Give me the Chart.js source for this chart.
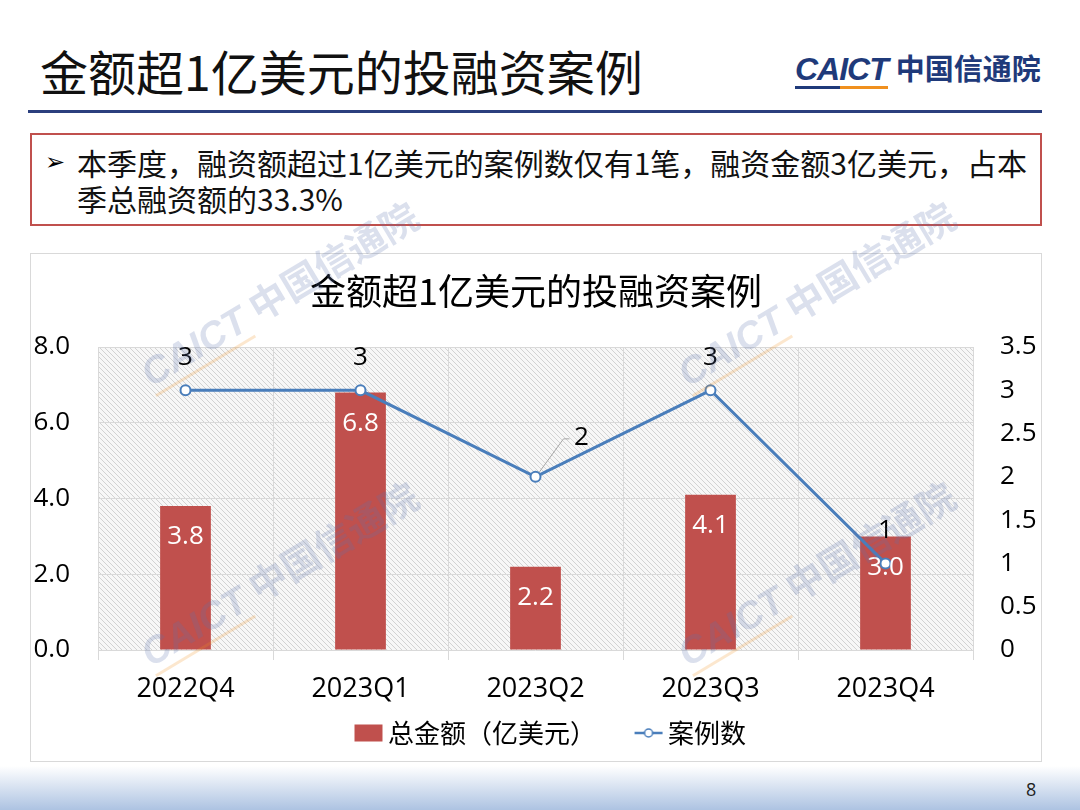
<!DOCTYPE html>
<html lang="zh-CN">
<head>
<meta charset="UTF-8">
<title>金额超1亿美元的投融资案例</title>
<style>
  body { margin: 0; background: #fff; font-family: "Noto Sans CJK SC", sans-serif; }
  #slide { position: relative; width: 1080px; height: 810px; overflow: hidden; background: #fff; }
  #title { position: absolute; left: 40px; top: 38px; font-size: 48px; line-height: 64px; color: #111; white-space: nowrap; }
  #logo { position: absolute; left: 795px; top: 50px; line-height: 34px; white-space: nowrap; color: #1f3a7a; }
  #logo .caict {
    font: italic bold 32px "Liberation Sans", sans-serif; letter-spacing: -1px;
    padding-bottom: 2px;
    background: linear-gradient(90deg, #1f3a7a 48%, #f0901e 48%) left bottom / 100% 3px no-repeat;
  }
  #logo .cn { font-weight: bold; font-size: 29px; margin-left: 8px; }
  #rule { position: absolute; left: 28px; top: 110px; width: 1014px; height: 3px; background: #2b3f7e; }
  #note { position: absolute; left: 30px; top: 133px; width: 1012px; height: 93px; box-sizing: border-box; border: 2px solid #c0504d; }
  #bullet { position: absolute; left: 45px; top: 144px; font: 24px/36px "DejaVu Sans", sans-serif; color: #000; }
  #noteText { position: absolute; left: 77px; top: 144px; font-size: 30px; line-height: 36px; color: #111; white-space: nowrap; }
  #chartBox { position: absolute; left: 30px; top: 253px; width: 1012px; height: 509px; }
  #chartFrame { position: absolute; left: 30px; top: 253px; width: 1012px; height: 509px; box-sizing: border-box; border: 1px solid #d9d9d9; pointer-events: none; }
  .wm {
    position: absolute; transform: translate(-50%, -50%) rotate(-31deg);
    font-weight: bold; font-size: 38px; color: rgba(90, 115, 175, 0.22);
    white-space: nowrap; pointer-events: none;
  }
  .wm i { font-family: "Liberation Sans", sans-serif; border-bottom: 3px solid rgba(240, 144, 30, 0.22); margin-right: 10px; }
  #footer { position: absolute; left: 0; top: 766px; width: 1080px; height: 44px; background: linear-gradient(#ffffff, #adc3e2); }
  #page { position: absolute; left: 1026px; top: 777px; font: 18px "Open Sans", sans-serif; color: #222; }
</style>
</head>
<body>
<div id="slide">
  <div id="title">金额超1亿美元的投融资案例</div>
  <div id="logo"><span class="caict">CAICT</span><span class="cn">中国信通院</span></div>
  <div id="rule"></div>
  <div id="note"></div>
  <div id="bullet">➢</div>
  <div id="noteText">本季度，融资额超过1亿美元的案例数仅有1笔，融资金额3亿美元，占本<br>季总融资额的33.3%</div>
  <div id="chartBox"><canvas id="chart" width="1012" height="509"></canvas></div>
  <div id="chartFrame"></div>
  <div class="wm" style="left:278px; top:292px;"><i>CAICT</i>中国信通院</div>
  <div class="wm" style="left:278px; top:572px;"><i>CAICT</i>中国信通院</div>
  <div class="wm" style="left:815px; top:292px;"><i>CAICT</i>中国信通院</div>
  <div class="wm" style="left:815px; top:572px;"><i>CAICT</i>中国信通院</div>
  <div id="footer"></div>
  <div id="page">8</div>
</div>

<script src="https://cdn.jsdelivr.net/npm/chart.js"></script>
<script>
  const chartTitle = '金额超1亿美元的投融资案例';
  const quarters = ['2022Q4', '2023Q1', '2023Q2', '2023Q3', '2023Q4'];
  const amounts = [3.8, 6.8, 2.2, 4.1, 3.0];      // 总金额（亿美元）
  const dealCounts = [3, 3, 2, 3, 1];             // 案例数
  const seriesNames = ['总金额（亿美元）', '案例数'];

  const barColor = '#c0504d';
  const lineColor = '#4a7ebb';
  const gridColor = '#d9d9d9';
  const numFont = '"Open Sans", "Noto Sans CJK SC", sans-serif';
  const cjkFont = '"Noto Sans CJK SC", sans-serif';

  // diagonal hatch behind the plot area
  function hatchPattern(ctx) {
    const c = document.createElement('canvas');
    c.width = 5; c.height = 5;
    const g = c.getContext('2d');
    g.fillStyle = '#f7f7f7';
    g.fillRect(0, 0, 5, 5);
    g.strokeStyle = '#d2d2d2';
    g.lineWidth = 1;
    g.beginPath(); g.moveTo(-1, -1); g.lineTo(6, 6); g.stroke();
    return ctx.createPattern(c, 'repeat');
  }

  const hatchPlugin = {
    id: 'hatch',
    beforeDraw(chart) {
      const { ctx, chartArea: a } = chart;
      ctx.save();
      ctx.fillStyle = hatchPattern(ctx);
      ctx.fillRect(a.left, a.top, a.right - a.left, a.bottom - a.top);
      ctx.restore();
    }
  };

  // data labels: white inside bar tops, black above line points
  const valueLabels = {
    id: 'valueLabels',
    afterDatasetsDraw(chart) {
      const ctx = chart.ctx;
      ctx.save();
      ctx.font = '26px ' + numFont;
      ctx.textAlign = 'center';
      ctx.textBaseline = 'middle';
      chart.getDatasetMeta(0).data.forEach((bar, i) => {
        ctx.fillStyle = '#fff';
        ctx.fillText(amounts[i].toFixed(1), bar.x, bar.y + 31);
      });
      chart.getDatasetMeta(1).data.forEach((pt, i) => {
        ctx.fillStyle = '#000';
        if (i === 2) {
          // label pushed up-right with a leader line
          ctx.strokeStyle = '#a6a6a6';
          ctx.lineWidth = 1;
          ctx.beginPath();
          ctx.moveTo(pt.x + 4, pt.y - 5);
          ctx.lineTo(pt.x + 28, pt.y - 38);
          ctx.lineTo(pt.x + 34, pt.y - 38);
          ctx.stroke();
          ctx.fillText(String(dealCounts[i]), pt.x + 46, pt.y - 39);
        } else {
          ctx.fillText(String(dealCounts[i]), pt.x, pt.y - 33);
        }
      });
      ctx.restore();
    }
  };

  // legend markers (drawn off-centre inside a wider box so the items sit where the original has them)
  function legendRect() {
    const c = document.createElement('canvas');
    c.width = 66; c.height = 18;
    const g = c.getContext('2d');
    g.fillStyle = barColor;
    g.fillRect(37, 0.5, 28, 17);
    return c;
  }
  function legendLine() {
    const c = document.createElement('canvas');
    c.width = 66; c.height = 18;
    const g = c.getContext('2d');
    g.strokeStyle = lineColor;
    g.lineWidth = 2.5;
    g.beginPath(); g.moveTo(37, 9); g.lineTo(65, 9); g.stroke();
    g.fillStyle = '#fff';
    g.lineWidth = 1.5;
    g.beginPath(); g.arc(51, 9, 4, 0, Math.PI * 2); g.fill(); g.stroke();
    return c;
  }
  const rectMark = legendRect();
  const lineMark = legendLine();

  new Chart(document.getElementById('chart'), {
    data: {
      labels: quarters,
      datasets: [
        {
          type: 'bar',
          label: seriesNames[0],
          data: amounts,
          backgroundColor: barColor,
          yAxisID: 'y',
          order: 2,
          barPercentage: 0.29,
          categoryPercentage: 1
        },
        {
          type: 'line',
          label: seriesNames[1],
          data: dealCounts,
          yAxisID: 'y1',
          order: 1,
          borderColor: lineColor,
          borderWidth: 3,
          tension: 0,
          pointRadius: 5,
          pointBackgroundColor: '#fff',
          pointBorderColor: lineColor,
          pointBorderWidth: 2
        }
      ]
    },
    options: {
      responsive: false,
      animation: false,
      layout: { padding: { top: 0, left: 0, right: 0, bottom: 6 } },
      plugins: {
        title: {
          display: true,
          text: chartTitle,
          color: '#000',
          font: { family: cjkFont, size: 36, weight: 'normal', lineHeight: 1.2 },
          padding: { top: 16.4, bottom: 34.4 }
        },
        legend: {
          position: 'bottom',
          labels: {
            usePointStyle: true,
            pointStyleWidth: 49,
            padding: 10,
            color: '#000',
            font: { family: cjkFont, size: 26 },
            generateLabels: () => [
              { text: seriesNames[0], pointStyle: rectMark, fontColor: '#000', lineWidth: 0, hidden: false, datasetIndex: 0 },
              { text: seriesNames[1], pointStyle: lineMark, fontColor: '#000', lineWidth: 0, hidden: false, datasetIndex: 1 }
            ]
          }
        },
        tooltip: { enabled: false }
      },
      scales: {
        x: {
          grid: { offset: true, color: gridColor, tickColor: gridColor, tickLength: 10 },
          border: { display: false },
          ticks: { color: '#000', padding: 13, font: { family: numFont, size: 27 } },
          afterFit: s => { s.height = 60; }
        },
        y: {
          position: 'left',
          min: 0,
          max: 8,
          grid: { color: gridColor, drawTicks: false },
          border: { display: false },
          ticks: {
            stepSize: 2,
            padding: 28,
            color: '#000',
            font: { family: numFont, size: 26 },
            callback: v => v.toFixed(1)
          },
          afterFit: s => { s.width = 68; }
        },
        y1: {
          position: 'right',
          min: 0,
          max: 3.5,
          grid: { display: false, drawTicks: false },
          border: { display: false },
          ticks: {
            stepSize: 0.5,
            padding: 27,
            color: '#000',
            font: { family: numFont, size: 26 },
            callback: v => String(v)
          },
          afterFit: s => { s.width = 69; }
        }
      }
    },
    plugins: [hatchPlugin, valueLabels]
  });
</script>
</body>
</html>
